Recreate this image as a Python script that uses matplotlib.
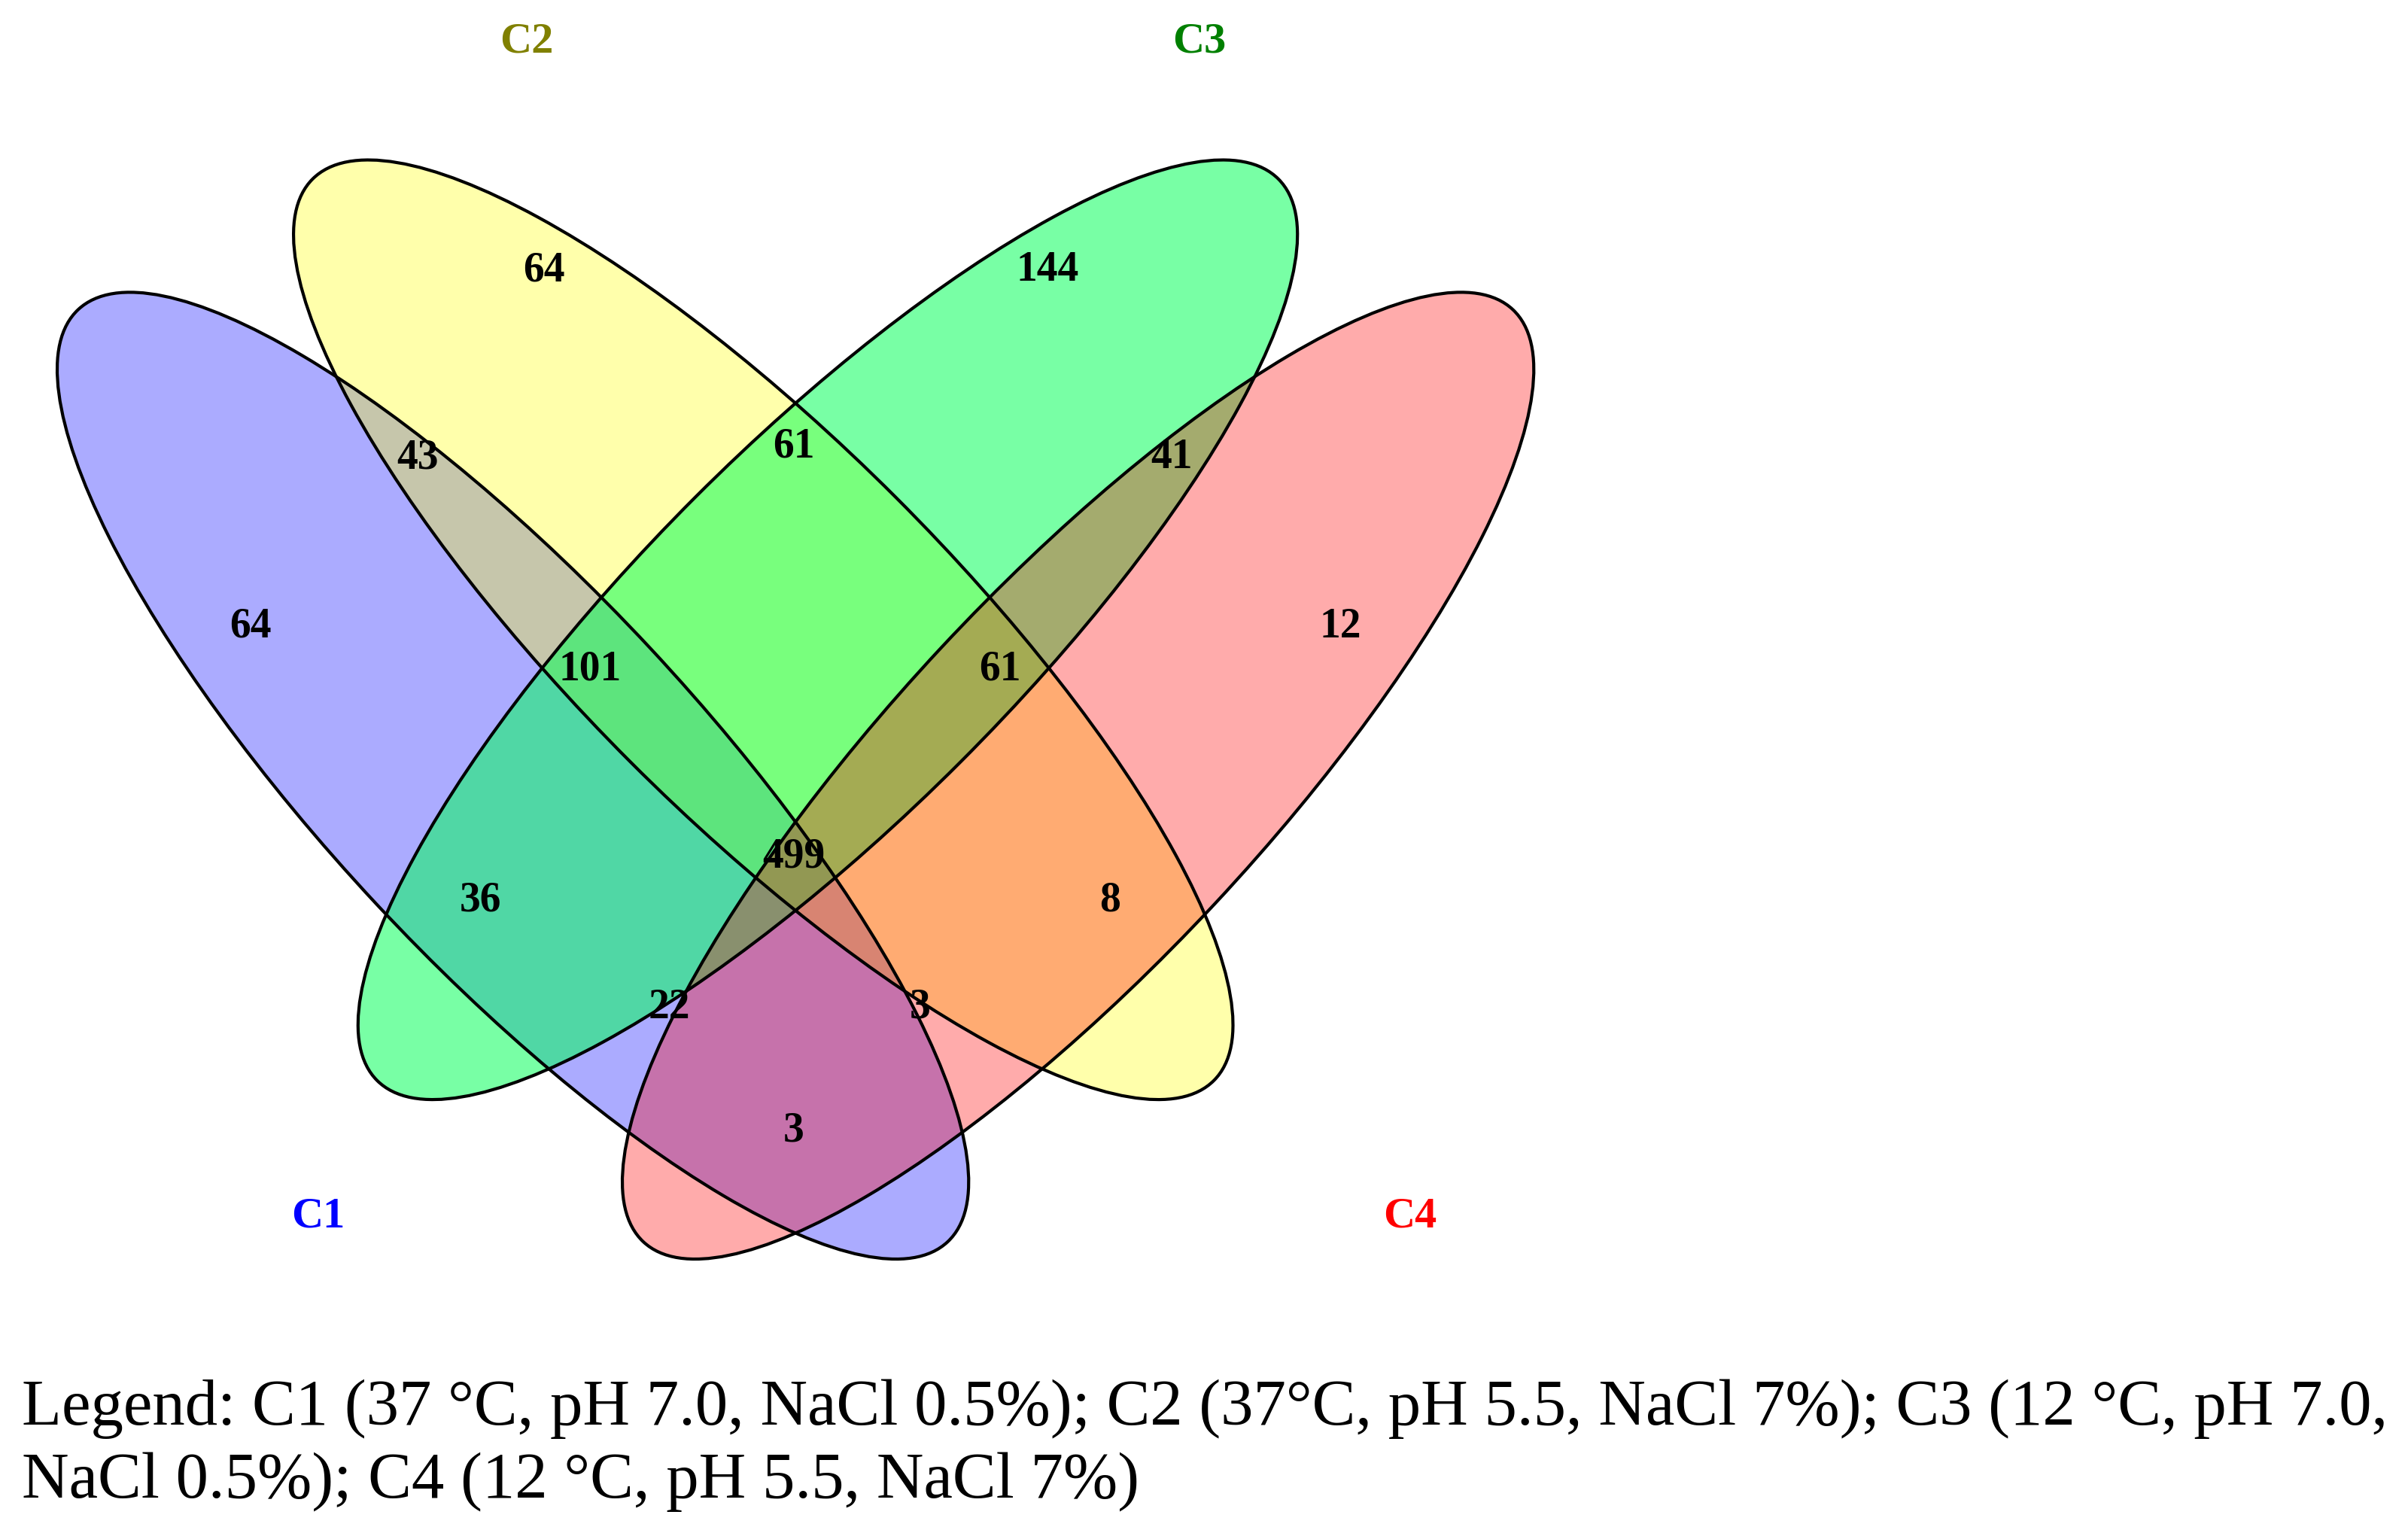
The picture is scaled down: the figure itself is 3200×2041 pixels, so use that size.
import matplotlib.pyplot as plt
from matplotlib.patches import Ellipse

# ---- data ----
set_names = ["C1", "C2", "C3", "C4"]
set_colors = ["#0000FF", "#808000", "#008000", "#FF0000"]
fill_colors = ["#0000FF", "#FFFF00", "#00FF55", "#FF0000"]
fill_alpha = [0.33, 0.33, 0.53, 0.33]

# region counts (label: value)
region_labels = ["C1", "C2", "C3", "C4", "C1C2", "C2C3", "C3C4", "C1C3", "C2C4",
                 "C1C2C3", "C2C3C4", "C1C2C3C4", "C1C3C4", "C1C2C4", "C1C4"]
region_values = [64, 64, 144, 12, 43, 61, 41, 36, 8, 101, 61, 499, 3, 22, 3]

legend_text = ("Legend: C1 (37 \u00b0C, pH 7.0, NaCl 0.5%); C2 (37\u00b0C, pH 5.5, NaCl 7%); C3 (12 \u00b0C, pH 7.0,\n"
               "NaCl 0.5%); C4 (12 \u00b0C, pH 5.5, NaCl 7%)")

# ---- layout (image coords of a 1568x1000 canvas, y down) ----
ell = [  # cx, cy, semi-major, semi-minor, tilt (deg, image y down)
    (334, 505, 415, 122, 47),
    (497, 410, 415, 122, 45),
    (539, 410, 415, 122, -45),
    (702, 505, 415, 122, -47),
]
label_pos = [(163, 408), (354, 176), (682, 176), (873, 408), (272, 298), (517, 291),
             (763, 298), (313, 586), (723, 586), (384, 436), (651, 436), (517, 558),
             (599, 656), (436, 656), (517, 736)]
name_pos = [(207, 792), (343, 27), (781, 27), (918, 792)]

fig = plt.figure(figsize=(32, 20.41), dpi=100)
ax = fig.add_axes([0, 0, 1, 1])
ax.set_xlim(0, 1568)
ax.set_ylim(1000, 0)
ax.axis("off")

for (cx, cy, a, b, t), fc, al in zip(ell, fill_colors, fill_alpha):
    ax.add_patch(Ellipse((cx, cy), 2 * a, 2 * b, angle=t, facecolor=fc,
                         alpha=al, edgecolor="none"))
for (cx, cy, a, b, t) in ell:
    ax.add_patch(Ellipse((cx, cy), 2 * a, 2 * b, angle=t, facecolor="none",
                         edgecolor="black", lw=3))

serif = ["Liberation Serif", "DejaVu Serif"]
for (x, y), v in zip(label_pos, region_values):
    ax.text(x, y, str(v), ha="center", va="center", fontsize=40,
            fontweight="bold", family=serif)
for (x, y), n, c in zip(name_pos, set_names, set_colors):
    ax.text(x, y, n, ha="center", va="center", fontsize=42,
            fontweight="bold", color=c, family=serif)

ax.text(14, 941, legend_text, ha="left", va="center", fontsize=62.5,
        family=serif, linespacing=1.3)

fig.savefig("out.png", dpi=100)
